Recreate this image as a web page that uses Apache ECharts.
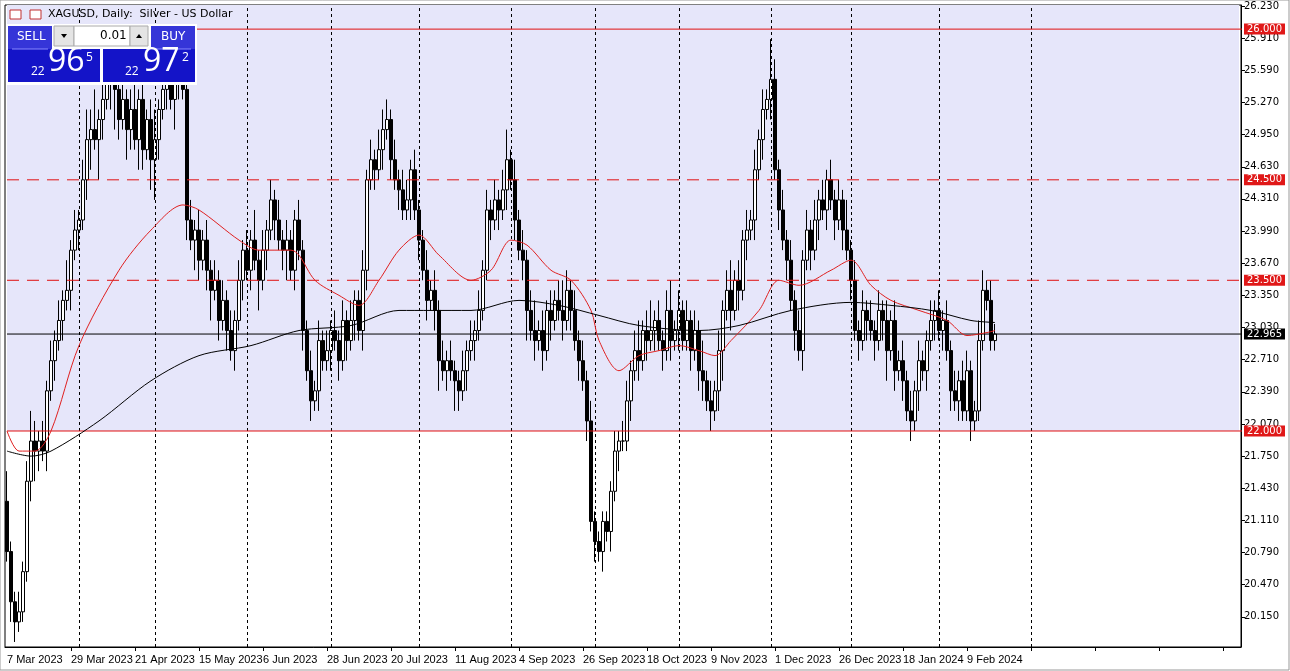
<!DOCTYPE html>
<html><head><meta charset="utf-8">
<script src="https://cdn.jsdelivr.net/npm/echarts@6/dist/echarts.min.js"></script>
<style>html,body{margin:0;padding:0;background:#fff}#c{width:1290px;height:671px}</style>
</head><body><div id="c"></div>
<script>
const dateLabels=['7 Mar 2023','29 Mar 2023','21 Apr 2023','15 May 2023','6 Jun 2023','28 Jun 2023','20 Jul 2023','11 Aug 2023','4 Sep 2023','26 Sep 2023','18 Oct 2023','9 Nov 2023','1 Dec 2023','26 Dec 2023','18 Jan 2024','9 Feb 2024'];
const priceTicks=[20.150,20.470,20.790,21.110,21.430,21.750,22.070,22.390,22.710,23.030,23.350,23.670,23.990,24.310,24.630,24.950,25.270,25.590,25.910,26.230];
const monthSeparators=[18,37,60,81,103,126,147,168,191,211,233,256];
const firstOpen=21.3;
const closes=[
20.8,20.3,20.1,20.2,20.6,21.5,21.9,21.8,21.9,21.8,
22.4,22.7,22.9,23.1,23.3,23.4,23.8,24.0,24.1,24.5,
24.9,25.0,24.9,25.1,25.3,25.5,25.6,25.4,25.1,25.3,
25.0,25.2,24.9,25.3,24.8,25.1,24.7,24.9,25.2,25.4,
25.6,25.3,25.5,25.7,25.4,24.1,23.9,24.0,23.7,23.9,
23.6,23.4,23.5,23.1,23.3,23.0,22.8,23.1,23.5,23.8,
23.6,23.9,23.7,23.5,23.8,24.0,24.3,24.1,23.9,23.8,
23.9,23.6,24.1,23.8,23.0,22.6,22.3,22.4,22.9,22.7,
22.8,23.0,22.9,22.7,23.1,22.9,23.1,23.3,23.0,23.6,
24.5,24.7,24.6,24.8,25.0,25.1,24.7,24.5,24.4,24.2,
24.3,24.6,24.2,23.9,23.6,23.3,23.4,23.2,22.7,22.6,
22.7,22.6,22.5,22.4,22.6,22.8,22.9,23.0,23.2,23.6,
24.2,24.1,24.3,24.2,24.4,24.7,24.5,24.1,23.8,23.7,
23.2,23.0,22.9,23.0,22.8,23.2,23.1,23.3,23.2,23.1,
23.4,23.2,22.9,22.7,22.5,22.1,21.1,20.9,20.8,21.1,
21.0,21.4,21.8,21.9,21.9,22.3,22.6,22.8,22.7,23.0,
22.9,23.0,23.1,22.9,22.8,23.2,22.9,23.0,23.2,22.9,
23.1,22.8,23.0,22.6,22.5,22.3,22.2,22.4,22.8,23.2,
23.4,23.2,23.5,23.4,23.9,24.0,24.1,24.6,24.9,25.2,
25.3,25.5,24.6,24.2,23.9,23.7,23.3,23.0,22.8,23.7,
24.0,23.8,24.1,24.3,24.2,24.5,24.3,24.1,24.3,24.0,
23.8,23.5,23.0,22.9,23.2,23.1,23.0,22.9,23.2,23.1,
22.8,23.1,22.6,22.7,22.5,22.2,22.1,22.4,22.7,22.6,
22.9,23.1,23.2,23.0,23.1,22.8,22.4,22.3,22.5,22.2,
22.6,22.1,22.2,22.9,23.4,23.3,22.9,22.965];
const upWick=[
.3,.1,.1,.2,.1,.2,.3,.2,.1,.2, .1,.2,.1,.2,.1,.3,.1,.2,.1,.2,
.3,.2,.4,.1,.2,.3,.2,.1,.2,.3, .1,.2,.3,.1,.2,.1,.2,.3,.1,.2,
.2,.3,.1,.2,.3,.1,.2,.1,.2,.1, .2,.1,.2,.1,.2,.1,.2,.1,.2,.1,
.2,.1,.3,.1,.2,.1,.2,.1,.2,.1, .2,.1,.1,.2,.1,.1,.2,.1,.2,.1,
.2,.1,.2,.1,.2,.1,.2,.1,.1,.2, .1,.2,.1,.2,.2,.2,.1,.2,.1,.2,
.2,.1,.2,.1,.1,.2,.1,.2,.1,.2, .1,.2,.1,.1,.2,.1,.2,.1,.2,.1,
.2,.1,.2,.1,.2,.3,.1,.2,.1,.2, .1,.2,.3,.1,.2,.1,.2,.1,.2,.3,
.2,.1,.2,.1,.2,.1,.2,.1,.1,.1, .1,.1,.2,.1,.2,.2,.1,.2,.3,.1,
.2,.3,.1,.2,.1,.2,.3,.1,.2,.1, .2,.1,.2,.1,.3,.1,.2,.1,.2,.1,
.2,.3,.1,.2,.1,.2,.1,.2,.1,.2, .1,.4,.2,.1,.2,.1,.2,.1,.2,.1,
.2,.1,.2,.1,.2,.1,.2,.1,.2,.1, .3,.1,.2,.1,.2,.1,.2,.1,.2,.1,
.2,.1,.2,.1,.2,.1,.2,.1,.2,.1, .1,.2,.1,.2,.1,.2,.1,.2,.1,.2,
.2,.1,.1,.2,.2,.1,.2,.1];
const downWick=[
.1,.2,.2,.1,.1,.1,.2,.3,.2,.1, .2,.1,.2,.1,.2,.1,.2,.1,.2,.1,
.2,.3,.1,.4,.2,.1,.3,.4,.2,.1, .3,.2,.1,.3,.2,.1,.3,.4,.2,.1,
.2,.1,.3,.2,.1,.2,.1,.3,.2,.1, .2,.3,.1,.2,.1,.2,.1,.2,.1,.2,
.1,.2,.1,.3,.1,.2,.1,.2,.1,.2, .3,.1,.2,.1,.2,.1,.2,.1,.2,.1,
.1,.2,.1,.2,.1,.2,.1,.2,.1,.2, .2,.1,.2,.1,.2,.1,.2,.1,.2,.1,
.1,.2,.1,.2,.1,.2,.1,.2,.3,.1, .2,.1,.3,.2,.1,.2,.1,.2,.1,.1,
.1,.2,.1,.2,.1,.2,.1,.2,.1,.2, .3,.1,.2,.1,.2,.1,.2,.1,.1,.2,
.1,.2,.1,.2,.1,.2,.1,.2,.1,.2, .1,.2,.1,.2,.1,.1,.2,.1,.2,.1,
.2,.1,.2,.1,.2,.1,.2,.1,.2,.1, .1,.2,.1,.2,.2,.1,.2,.1,.2,.3,
.1,.2,.1,.2,.1,.2,.1,.2,.1,.2, .1,.2,.1,.2,.1,.2,.1,.2,.1,.2,
.1,.2,.1,.2,.1,.2,.1,.2,.1,.2, .1,.2,.1,.2,.1,.2,.1,.2,.1,.2,
.3,.1,.2,.1,.2,.1,.2,.1,.2,.1, .2,.1,.2,.1,.2,.1,.2,.1,.2,.1,
.1,.2,.1,.1,.1,.1,.1,.1];
const maFast=[[0,22.0],[3,21.8],[7,21.8],[11,22.0],[18,22.85],[28,23.6],[36,24.0],[44,24.25],[48,24.2],[58,23.9],[63,23.8],[71,23.8],[73,23.75],[77,23.5],[83,23.35],[88,23.25],[93,23.5],[98,23.8],[103,23.95],[108,23.75],[116,23.5],[121,23.6],[126,23.9],[130,23.85],[136,23.6],[141,23.5],[146,23.2],[148,22.9],[153,22.6],[158,22.75],[163,22.8],[168,22.85],[173,22.8],[177,22.75],[181,22.9],[188,23.2],[193,23.5],[198,23.45],[206,23.6],[211,23.7],[216,23.45],[221,23.3],[228,23.2],[235,23.1],[240,22.95],[245,22.98],[247,23.0]];
const maSlow=[[0,21.8],[6,21.75],[11,21.8],[23,22.1],[36,22.5],[48,22.75],[61,22.85],[73,23.0],[86,23.05],[98,23.2],[106,23.2],[116,23.2],[128,23.3],[138,23.25],[148,23.15],[158,23.05],[173,23.0],[183,23.05],[196,23.2],[211,23.28],[221,23.25],[231,23.2],[241,23.1],[247,23.08]];
const levels=[{v:26.0,t:'solid'},{v:24.5,t:'dashed'},{v:23.5,t:'dashed'},{v:22.0,t:'solid'}];
const currentPrice=22.965;
const NSLOTS=309;

const cats=[];for(let i=0;i<NSLOTS;i++)cats.push(i);
const ohlc=[];let prev=firstOpen;
for(let i=0;i<closes.length;i++){const o=prev,c=closes[i];ohlc.push([o,c,Math.min(o,c)-downWick[i],Math.max(o,c)+upWick[i]]);prev=c;}
function maSeries(s){const a=new Array(NSLOTS).fill(null);s.forEach(p=>a[p[0]]=p[1]);return a;}
function levelSeries(v,color,type,bg,txt,extra){
  return Object.assign({type:'line',data:cats.map((c,i)=>[i-0.5+ (i===NSLOTS-1?1:0),v]),symbol:'none',silent:true,z:5,
    lineStyle:{color:color,width:1,type:type},
    endLabel:{show:true,formatter:txt,color:'#fff',backgroundColor:bg,padding:[1,3,0,3],fontSize:10,fontFamily:'DejaVu Sans',distance:2}},extra||{});
}
const series=[];
series.push({type:'line',data:[[0,22.0],[NSLOTS-1,22.0]],symbol:'none',silent:true,z:1,lineStyle:{width:0},
  areaStyle:{color:'#e6e6fa',origin:'end',opacity:1}});
series.push({type:'candlestick',data:ohlc,barWidth:3,z:4,
  itemStyle:{color:'#fff',color0:'#000',borderColor:'#000',borderColor0:'#000',borderWidth:1},
  markLine:{silent:true,symbol:['none','none'],label:{show:false},
    data:monthSeparators.map(m=>({xAxis:m})),lineStyle:{color:'#000',width:1,type:[3,3]}}});
levels.forEach(l=>series.push(levelSeries(l.v,'#e01010',l.t==='dashed'?[12,8]:'solid','#e01818',l.v.toFixed(3))));
series.push(levelSeries(currentPrice,'#000','solid','#000','22.965',{z:5}));
series.push({type:'line',data:maSeries(maFast),connectNulls:true,symbol:'none',smooth:0.3,lineStyle:{color:'#e02020',width:1},z:6});
series.push({type:'line',data:maSeries(maSlow),connectNulls:true,symbol:'none',smooth:0.3,lineStyle:{color:'#000',width:1},z:6});

const Z=100;
const chart=echarts.init(document.getElementById('c'));
chart.setOption({
 animation:false,backgroundColor:'#fff',
 grid:{left:5,right:49,top:5,bottom:24,show:true,borderColor:'#000',borderWidth:1},
 xAxis:{type:'category',data:cats,boundaryGap:true,
   axisLine:{show:true,lineStyle:{color:'#000'}},
   axisTick:{show:true,alignWithLabel:true,interval:(i)=>i%16===0&&i>0,length:4,lineStyle:{color:'#000'}},
   axisLabel:{interval:(i)=>i%16===0&&i/16<dateLabels.length,hideOverlap:false,formatter:(v,i)=>dateLabels[i/16]||'',align:'left',margin:7,color:'#000',fontSize:11,fontFamily:'Liberation Sans'},
   splitLine:{show:false}},
 yAxis:{type:'value',position:'right',min:19.85,max:26.24,scale:true,
   axisLine:{show:true,lineStyle:{color:'#000'}},
   axisTick:{show:true,customValues:priceTicks,length:4,lineStyle:{color:'#000'}},
   axisLabel:{customValues:priceTicks,formatter:v=>v.toFixed(3),color:'#000',fontSize:10,fontFamily:'DejaVu Sans',margin:3},
   splitLine:{show:false}},
 series:series,
 graphic:[
  {type:'rect',z:Z,shape:{x:0,y:0,width:1289,height:670},style:{fill:'none',stroke:'#999'},silent:true},
  {type:'rect',z:Z,shape:{x:10,y:10,width:11,height:9},style:{fill:'#fff',stroke:'#c03030'}},
  {type:'rect',z:Z,shape:{x:30,y:10,width:11,height:9},style:{fill:'#fff',stroke:'#c03030'}},
  {type:'text',z:Z,left:48,top:9,style:{text:'XAGUSD, Daily:  Silver - US Dollar',fontSize:11,fontFamily:'DejaVu Sans',fill:'#000'}},
  {type:'rect',z:Z,shape:{x:6,y:24,width:191,height:61},style:{fill:'#fff'}},
  {type:'rect',z:Z,shape:{x:8,y:26,width:44,height:24},style:{fill:'#3535d8'}},
  {type:'text',z:Z,left:17,top:31,style:{text:'SELL',fontSize:12,fontFamily:'DejaVu Sans',fill:'#fff'}},
  {type:'rect',z:Z,shape:{x:54,y:26,width:20,height:20},style:{fill:'#e4e4e4',stroke:'#aaa'}},
  {type:'polygon',z:Z,shape:{points:[[61,34],[67,34],[64,38]]},style:{fill:'#000'}},
  {type:'rect',z:Z,shape:{x:74,y:26,width:56,height:20},style:{fill:'#fff',stroke:'#aaa'}},
  {type:'text',z:Z,left:100,top:30,style:{text:'0.01',fontSize:12,fontFamily:'DejaVu Sans',fill:'#000'}},
  {type:'rect',z:Z,shape:{x:130,y:26,width:18,height:20},style:{fill:'#e4e4e4',stroke:'#aaa'}},
  {type:'polygon',z:Z,shape:{points:[[136,38],[142,38],[139,34]]},style:{fill:'#000'}},
  {type:'rect',z:Z,shape:{x:151,y:26,width:44,height:24},style:{fill:'#3535d8'}},
  {type:'text',z:Z,left:161,top:31,style:{text:'BUY',fontSize:12,fontFamily:'DejaVu Sans',fill:'#fff'}},
  {type:'rect',z:Z,shape:{x:8,y:49,width:92,height:33},style:{fill:'#1414c8'}},
  {type:'rect',z:Z,shape:{x:103,y:49,width:92,height:33},style:{fill:'#1414c8'}},
  {type:'line',z:Z,shape:{x1:12,y1:49,x2:48,y2:49},style:{stroke:'#8888ff'}},
  {type:'line',z:Z,shape:{x1:155,y1:49,x2:191,y2:49},style:{stroke:'#8888ff'}},
  {type:'text',z:Z,left:31,top:66,style:{text:'22',fontSize:12,fontFamily:'Open Sans',fill:'#fff'}},
  {type:'text',z:Z,left:48,top:46,style:{text:'96',fontSize:32,fontFamily:'Open Sans',fill:'#fff'}},
  {type:'text',z:Z,left:86,top:52,style:{text:'5',fontSize:12,fontFamily:'Open Sans',fill:'#fff'}},
  {type:'text',z:Z,left:125,top:66,style:{text:'22',fontSize:12,fontFamily:'Open Sans',fill:'#fff'}},
  {type:'text',z:Z,left:143,top:46,style:{text:'97',fontSize:32,fontFamily:'Open Sans',fill:'#fff'}},
  {type:'text',z:Z,left:182,top:52,style:{text:'2',fontSize:12,fontFamily:'Open Sans',fill:'#fff'}}
 ]
});
</script></body></html>
